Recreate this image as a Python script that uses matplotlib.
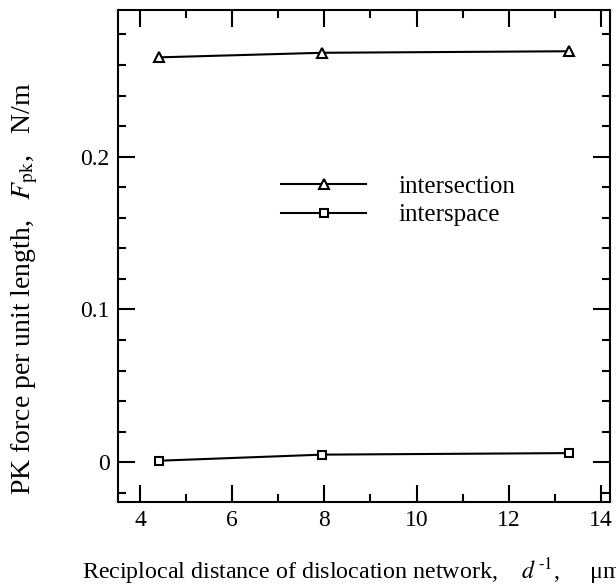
import matplotlib
matplotlib.use("Agg")
from matplotlib import pyplot as plt
from matplotlib.ticker import MultipleLocator

plt.rcParams['font.family'] = ['Liberation Serif', 'DejaVu Serif']
plt.rcParams['mathtext.fontset'] = 'stix'

# data
recip_d = [4.4, 7.95, 13.3]
f_intersection = [0.265, 0.268, 0.269]
f_interspace = [0.001, 0.005, 0.006]

fig = plt.figure(figsize=(6.16, 5.88), dpi=100)
ax = fig.add_axes([118 / 616, 1 - 502 / 588, 492 / 616, 492 / 588])

ax.plot(recip_d, f_intersection, color='black', lw=1.5, marker='^', ms=7,
        mfc='white', mec='black', mew=1.5, label='intersection')
ax.plot(recip_d, f_interspace, color='black', lw=1.5, marker='s', ms=6,
        mfc='white', mec='black', mew=1.5, label='interspace')

# Axis limits
ax.set_xlim(3.52, 14.2)
ax.set_ylim(-0.026, 0.296)

ax.xaxis.set_major_locator(MultipleLocator(2))
ax.xaxis.set_minor_locator(MultipleLocator(1))
ax.yaxis.set_minor_locator(MultipleLocator(0.02))
ax.set_yticks([0, 0.1, 0.2])
ax.set_yticklabels(['0', '0.1', '0.2'])

ax.tick_params(which='both', direction='in', top=True, right=True,
               width=1.5, labelsize=17, pad=6)
ax.tick_params(which='major', length=12)
ax.tick_params(which='minor', length=6)
for s in ax.spines.values():
    s.set_linewidth(1.5)

ax.legend(loc='upper left', bbox_to_anchor=(0.306, 0.69), frameon=False,
          fontsize=18, handlelength=3.4, handletextpad=1.3,
          labelspacing=0.25, borderpad=0)

# the reference itself runs this label off the right edge
fig.text(82 / 616, 1 - 572 / 588,
         r'Reciplocal distance of dislocation network,    $d^{\,\text{-}1}$,     μm$^{\text{-}1}$',
         fontsize=17.3, ha='left', va='center')
fig.text(25 / 616, 1 - 495 / 588,
         r'PK force per unit length,   $F_{\rm pk}$,   N/m',
         fontsize=20, rotation=90, ha='center', va='bottom')

fig.savefig('out.png', dpi=100)
